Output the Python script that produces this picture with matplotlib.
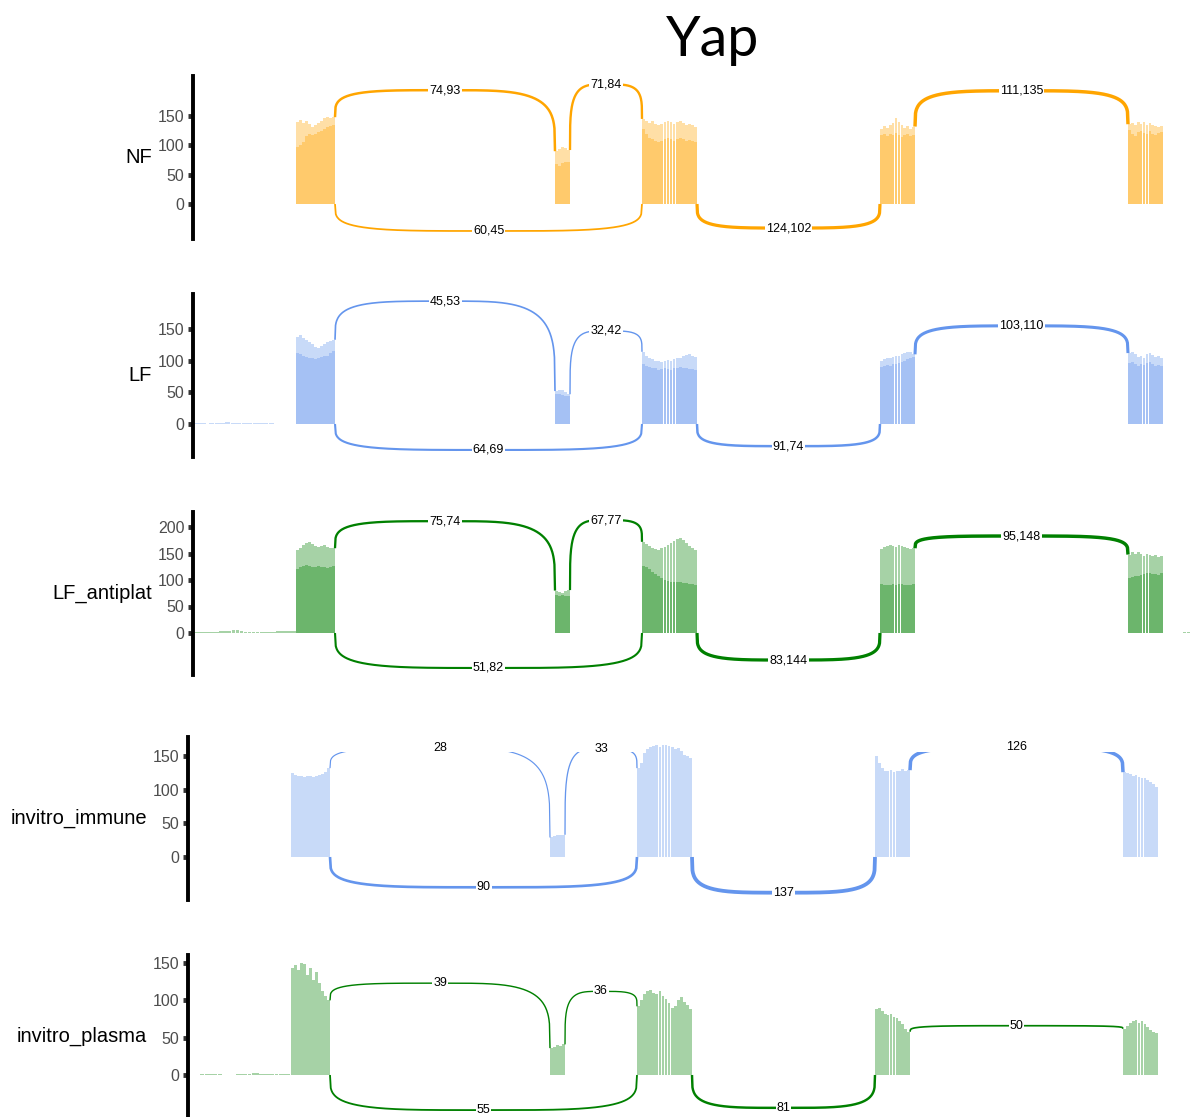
import numpy as np
import matplotlib
matplotlib.use("Agg")
import matplotlib.pyplot as plt
from matplotlib.patches import Rectangle

plt.rcParams['font.family'] = ['Liberation Sans', 'DejaVu Sans']

# exon coordinates (relative position along the gene)
exon_starts = [103, 362, 449, 687, 935]
exon_ends = [142, 377, 504, 722, 970]

# junctions: donor exon -> acceptor exon (upper arcs first, then lower arcs)
junc_donor = [0, 1, 3, 0, 2]
junc_acceptor = [1, 2, 4, 2, 3]

# ---- NF (two replicates) ----
nf_rep1 = [
    [140, 143, 138, 141, 136, 132, 134, 138, 142, 146, 149, 147, 148],
    [90, 93, 97, 95, 92],
    [145, 142, 138, 141, 137, 134, 136, 139, 142, 140, 137, 139, 141, 138, 135, 136, 134, 132],
    [128, 133, 130, 135, 138, 146, 140, 134, 130, 133, 128, 132],
    [136, 138, 135, 140, 137, 139, 134, 138, 135, 133, 132, 133],
]
nf_rep2 = [
    [97, 100, 106, 116, 120, 117, 119, 122, 125, 128, 131, 133, 134],
    [68, 65, 70, 72, 72],
    [128, 120, 113, 110, 108, 106, 108, 110, 112, 110, 108, 111, 113, 110, 108, 109, 107, 106],
    [118, 120, 116, 119, 117, 121, 118, 115, 117, 119, 116, 118],
    [126, 120, 116, 123, 125, 121, 119, 124, 120, 118, 121, 122],
]
nf_background = []
nf_counts = [(74, 93), (71, 84), (111, 135), (60, 45), (124, 102)]
nf_heights = [194, 204, 193, -46, -41]

# ---- LF ----
lf_rep1 = [
    [138, 140, 136, 133, 130, 126, 122, 120, 123, 126, 129, 131, 133],
    [52, 54, 53, 50, 47],
    [114, 108, 104, 102, 100, 99, 98, 100, 101, 100, 102, 104, 105, 107, 109, 110, 108, 106],
    [100, 103, 105, 104, 106, 108, 107, 110, 112, 114, 113, 110],
    [112, 114, 110, 106, 108, 104, 110, 112, 109, 106, 107, 105],
]
lf_rep2 = [
    [112, 110, 108, 106, 105, 104, 103, 104, 106, 107, 108, 112, 116],
    [48, 47, 46, 45, 44],
    [95, 92, 90, 89, 88, 86, 87, 88, 87, 86, 88, 89, 90, 89, 88, 87, 87, 86],
    [90, 92, 93, 92, 94, 95, 96, 98, 100, 102, 104, 106],
    [96, 98, 94, 92, 95, 93, 97, 98, 94, 92, 93, 92],
]
lf_background = [
    (2, 13, [1, 1, 1]),
    (16, 81, [1, 2, 2, 3, 2, 2, 1, 2, 2, 1, 1, 1]),
]
lf_counts = [(45, 53), (32, 42), (103, 110), (64, 69), (91, 74)]
lf_heights = [194, 147, 155, -41, -35]

# ---- LF_antiplat ----
ap_rep1 = [
    [156, 160, 166, 170, 172, 168, 165, 162, 164, 166, 163, 161, 160],
    [80, 78, 76, 79, 81],
    [172, 168, 164, 160, 158, 157, 160, 163, 166, 170, 174, 178, 179, 176, 170, 165, 160, 157],
    [158, 162, 164, 166, 165, 163, 166, 164, 162, 160, 158, 160],
    [148, 152, 150, 153, 149, 146, 150, 148, 145, 147, 144, 146],
]
ap_rep2 = [
    [120, 124, 127, 128, 126, 124, 125, 127, 125, 124, 123, 125, 127],
    [72, 70, 71, 69, 70],
    [126, 124, 120, 116, 112, 108, 104, 100, 98, 97, 96, 96, 97, 95, 94, 93, 92, 91],
    [92, 90, 91, 90, 92, 91, 93, 92, 91, 90, 91, 92],
    [104, 106, 108, 107, 110, 112, 114, 113, 111, 112, 110, 113],
]
ap_background = [
    (2, 103, [2, 2, 2, 2, 2, 2, 3, 3, 4, 5, 5, 3, 2, 2, 2, 1, 1, 2, 2, 2, 3, 3, 3, 3, 4]),
    (990, 997, [2, 2]),
]
ap_counts = [(75, 74), (67, 77), (95, 148), (51, 82), (83, 144)]
ap_heights = [211, 213, 183, -66, -51]

# ---- invitro_immune (single sample) ----
imm_rep1 = [
    [125, 122, 120, 121, 119, 120, 121, 119, 120, 122, 123, 126, 132],
    [29, 31, 32, 33, 33],
    [132, 140, 155, 160, 163, 165, 166, 164, 167, 166, 165, 163, 160, 162, 158, 152, 150, 147],
    [150, 140, 132, 128, 127, 129, 126, 128, 127, 130, 128, 129],
    [126, 125, 123, 121, 122, 119, 117, 118, 115, 112, 108, 104],
]
imm_background = []
imm_counts = [28, 33, 126, 90, 137]
imm_heights = [162, 161, 163, -45, -53]

# ---- invitro_plasma (single sample) ----
pla_rep1 = [
    [143, 147, 140, 150, 148, 134, 143, 127, 138, 123, 112, 106, 100],
    [36, 38, 40, 39, 41],
    [92, 100, 108, 112, 114, 110, 108, 112, 106, 102, 96, 90, 92, 100, 104, 98, 94, 88],
    [88, 90, 86, 82, 80, 82, 78, 76, 72, 68, 62, 58],
    [62, 66, 70, 72, 74, 70, 72, 68, 64, 60, 58, 56],
]
pla_background = [
    (12, 34, [2, 2, 2, 2, 2]),
    (48, 102, [1, 1, 2, 2, 3, 3, 2, 1, 1, 1, 2, 2, 1, 1]),
]
pla_counts = [39, 36, 50, 55, 81]
pla_heights = [123, 112, 66, -47, -44]

# panel layout in pixels: axis x, axis top, axis bottom, zero line, px per unit
panels = [
    dict(name="NF", color="#FFA500", reps=[nf_rep1, nf_rep2], bg=nf_background,
         counts=nf_counts, heights=nf_heights, ax_x=193, top=76, bot=239,
         zero=204, ppu=88 / 150, ticks=[0, 50, 100, 150], clip_top=None),
    dict(name="LF", color="#6495ED", reps=[lf_rep1, lf_rep2], bg=lf_background,
         counts=lf_counts, heights=lf_heights, ax_x=193, top=294, bot=457,
         zero=424, ppu=95 / 150, ticks=[0, 50, 100, 150], clip_top=None),
    dict(name="LF_antiplat", color="#008000", reps=[ap_rep1, ap_rep2], bg=ap_background,
         counts=ap_counts, heights=ap_heights, ax_x=193, top=512, bot=675,
         zero=633, ppu=106 / 200, ticks=[0, 50, 100, 150, 200], clip_top=None),
    dict(name="invitro_immune", color="#6495ED", reps=[imm_rep1], bg=imm_background,
         counts=imm_counts, heights=imm_heights, ax_x=188, top=737, bot=900,
         zero=857, ppu=101 / 150, ticks=[0, 50, 100, 150], clip_top=156),
    dict(name="invitro_plasma", color="#008000", reps=[pla_rep1], bg=pla_background,
         counts=pla_counts, heights=pla_heights, ax_x=188, top=955, bot=1117,
         zero=1075, ppu=112 / 150, ticks=[0, 50, 100, 150], clip_top=None),
]

W, H = 1190, 1117
XMAX = 997

fig = plt.figure(figsize=(W / 100, H / 100), dpi=100)
fig.text(713 / W, 1 - 56 / H, "Yap", ha='center', va='baseline',
         fontsize=40, family=['Lato', 'DejaVu Sans'])


def draw_bars(ax, start, end, vals, color):
    n = len(vals)
    step = (end - start) / n
    xs = start + step * (np.arange(n) + 0.5)
    ax.bar(xs, vals, width=step * 0.92, color=color, alpha=0.35,
           linewidth=0, zorder=1)


for p in panels:
    ax = fig.add_axes([p['ax_x'] / W, 1 - p['bot'] / H,
                       XMAX / W, (p['bot'] - p['top']) / H])
    ymax = (p['zero'] - p['top']) / p['ppu']
    ymin = -(p['bot'] - p['zero']) / p['ppu']
    ax.set_xlim(0, XMAX)
    ax.set_ylim(ymin, ymax)
    ax.patch.set_visible(False)

    color = p['color']
    for rep in p['reps']:
        for s0, s1, vals in zip(exon_starts, exon_ends, rep):
            draw_bars(ax, s0, s1, vals, color)
    for s0, s1, vals in p['bg']:
        draw_bars(ax, s0, s1, vals, color)

    # junction arcs
    for d, a, c, h in zip(junc_donor, junc_acceptor, p['counts'], p['heights']):
        c = np.atleast_1d(c)
        x0, x1 = exon_ends[d], exon_starts[a]
        if h > 0:
            y0 = max(rep[d][-1] for rep in p['reps'])
            y1 = max(rep[a][0] for rep in p['reps'])
        else:
            y0 = y1 = 0
        s = np.linspace(0, 1, 400)
        v = (1 - np.abs(2 * s - 1) ** 4) ** 0.25
        base = np.where(s < 0.5, y0, y1)
        yy = base + (h - base) * v
        lw = (0.5 + c.mean() * 0.024) * 0.72
        line, = ax.plot(x0 + (x1 - x0) * s, yy, color=color, lw=lw,
                        solid_capstyle='butt', zorder=3)
        if p['clip_top'] is not None:
            rect = Rectangle((0, ymin), XMAX, p['clip_top'] - ymin,
                             transform=ax.transData)
            line.set_clip_path(rect)
        label = ",".join(str(int(k)) for k in c)
        ax.text((x0 + x1) / 2, h, label, ha='center', va='center',
                fontsize=9, color='black', zorder=5,
                bbox=dict(boxstyle='square,pad=0.08', fc='white', ec='none'))

    for side in ['top', 'right', 'bottom']:
        ax.spines[side].set_visible(False)
    ax.spines['left'].set_linewidth(2.8)
    ax.spines['left'].set_color('black')
    ax.set_xticks([])
    ax.set_yticks(p['ticks'])
    ax.tick_params(axis='y', direction='out', length=3.6, width=3.5,
                   color='#333333', labelcolor='#4D4D4D', labelsize=11.5, pad=2.5)

    ax.text(-41 / XMAX, 0.5, p['name'], transform=ax.transAxes,
            ha='right', va='center', fontsize=14.5, color='black')

fig.savefig("out.png", dpi=100)
